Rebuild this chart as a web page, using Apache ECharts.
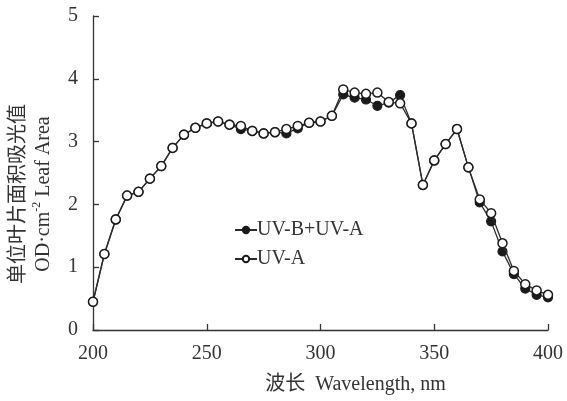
<!DOCTYPE html>
<html>
<head>
<meta charset="utf-8">
<script src="https://cdn.jsdelivr.net/npm/echarts@6/dist/echarts.min.js"></script>
<style>
  html, body { margin: 0; padding: 0; background: #fff; }
  #chart { width: 567px; height: 401px; }
</style>
</head>
<body>
<div id="chart"></div>
<script>
// absorbance per leaf area
const wavelengths = [200, 205, 210, 215, 220, 225, 230, 235, 240, 245, 250, 255, 260, 265, 270, 275, 280,
  285, 290, 295, 300, 305, 310, 315, 320, 325, 330, 335, 340, 345, 350, 355, 360, 365, 370, 375, 380,
  385, 390, 395, 400];

const uvBA = [0.45, 1.21, 1.76, 2.14, 2.20, 2.41, 2.61, 2.90, 3.11, 3.22, 3.29, 3.32, 3.27, 3.20, 3.17,
  3.13, 3.15, 3.13, 3.21, 3.30, 3.32, 3.41, 3.75, 3.70, 3.67, 3.57, 3.62, 3.74, 3.29, 2.31, 2.70, 2.96,
  3.20, 2.59, 2.03, 1.73, 1.25, 0.89, 0.66, 0.56, 0.52];

const uvA = [0.45, 1.21, 1.76, 2.14, 2.20, 2.41, 2.61, 2.90, 3.11, 3.22, 3.29, 3.32, 3.27, 3.25, 3.17,
  3.13, 3.15, 3.20, 3.25, 3.30, 3.32, 3.41, 3.83, 3.78, 3.76, 3.78, 3.63, 3.61, 3.29, 2.31, 2.70, 2.96,
  3.20, 2.59, 2.08, 1.86, 1.38, 0.94, 0.73, 0.63, 0.56];

const seriesNames = ['UV-B+UV-A', 'UV-A'];

const FONT = '"Liberation Serif", "Noto Sans CJK SC", serif';
const INK = '#333';

const toPairs = vals => wavelengths.map((w, i) => [w, vals[i]]);

const chart = echarts.init(document.getElementById('chart'));

chart.setOption({
  backgroundColor: '#fff',
  animation: false,
  grid: { left: 93, right: 19, top: 16, bottom: 71, containLabel: false, outerBoundsMode: 'none' },
  legend: {
    left: 229,
    top: 215,
    orient: 'vertical',
    itemGap: 9,
    itemWidth: 22,
    itemHeight: 8,
    textStyle: { fontFamily: FONT, fontSize: 20, color: INK, padding: [0, 0, 0, -5] },
    data: seriesNames
  },
  xAxis: {
    type: 'value',
    min: 200,
    max: 400,
    interval: 50,
    name: '波长  Wavelength, nm',
    nameLocation: 'middle',
    nameGap: 45,
    nameTextStyle: { fontFamily: FONT, fontSize: 20, color: INK, padding: [0, 0, 0, 70] },
    axisLine: { lineStyle: { color: INK, width: 1.3 } },
    axisTick: { inside: true, length: 6, lineStyle: { color: INK, width: 1.3 } },
    axisLabel: { fontFamily: FONT, fontSize: 20, color: INK, margin: 14 },
    splitLine: { show: false }
  },
  yAxis: {
    type: 'value',
    min: 0,
    max: 5,
    interval: 1,
    name: '{cn|单位叶片面积吸光值}\n{en|OD·cm}{sup|-2}{en| Leaf Area}',
    nameLocation: 'middle',
    nameRotate: 90,
    nameGap: 37,
    nameTextStyle: {
      fontFamily: FONT,
      color: INK,
      padding: [0, 42, 0, 0],
      rich: {
        cn: { fontFamily: FONT, fontSize: 20, color: INK, lineHeight: 25 },
        en: { fontFamily: FONT, fontSize: 20, color: INK, lineHeight: 25 },
        sup: { fontFamily: FONT, fontSize: 12, color: INK, verticalAlign: 'top', lineHeight: 18 }
      }
    },
    axisLine: { show: true, lineStyle: { color: INK, width: 1.3 } },
    axisTick: { show: true, inside: true, length: 6, lineStyle: { color: INK, width: 1.3 } },
    axisLabel: { fontFamily: FONT, fontSize: 20, color: INK, margin: 15, padding: [12, 0, 0, 0] },
    splitLine: { show: false }
  },
  series: [
    {
      name: seriesNames[0],
      type: 'line',
      data: toPairs(uvBA),
      symbol: 'circle',
      symbolSize: 9,
      itemStyle: { color: '#1a1a1a', borderColor: '#1a1a1a', borderWidth: 1.2 },
      lineStyle: { color: '#2a2a2a', width: 1.3 },
      z: 2
    },
    {
      name: seriesNames[1],
      type: 'line',
      data: toPairs(uvA),
      symbol: 'circle',
      symbolSize: 9,
      itemStyle: { color: '#fff', borderColor: '#1a1a1a', borderWidth: 1.5 },
      lineStyle: { color: '#2a2a2a', width: 1.3 },
      z: 3
    }
  ]
});
</script>
</body>
</html>
